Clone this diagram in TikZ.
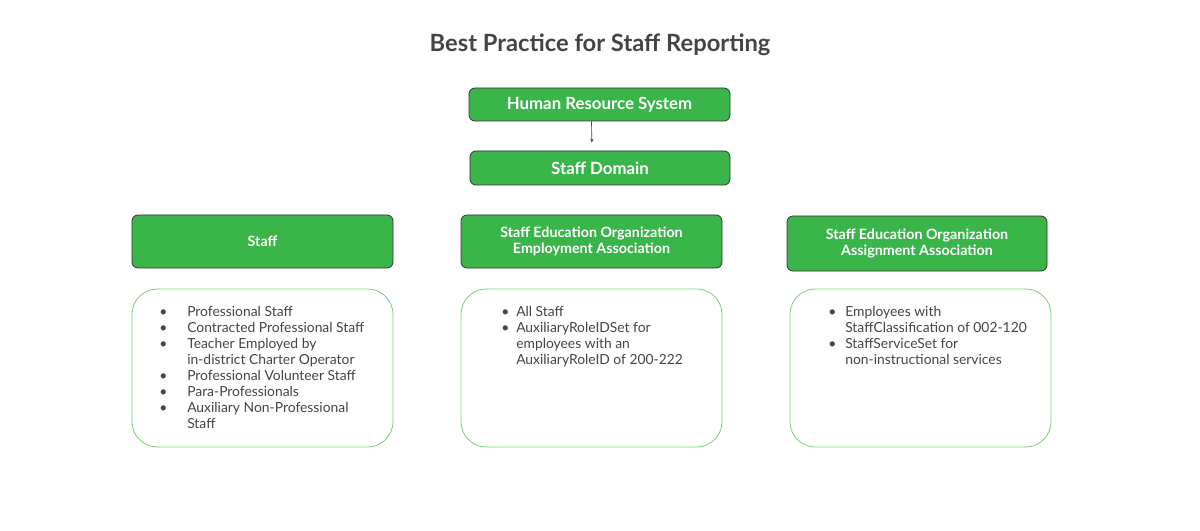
\documentclass[tikz,border=0pt]{standalone}
\usepackage{fontspec}
\setmainfont{Lato}
\usetikzlibrary{arrows.meta,positioning}
\definecolor{boxgreen}{RGB}{58,181,74}
\definecolor{rimgreen}{RGB}{122,206,122}
\definecolor{inkgrey}{RGB}{68,68,68}
\tikzset{
  headbox/.style={draw=black!80, fill=boxgreen, rounded corners=4.5pt, line width=0.6pt,
    text=white, align=center, inner sep=0pt, minimum width=195.75pt,
    font=\fontsize{10.7}{12}\selectfont\bfseries},
  listbox/.style={draw=rimgreen, rounded corners=19pt, line width=0.6pt,
    minimum width=195.75pt, minimum height=118.5pt, inner sep=0pt},
  listtext/.style={anchor=base west, inner sep=0pt, text=inkgrey,
    font=\fontsize{10.4}{12}\selectfont}
}

\begin{document}
\begin{tikzpicture}[x=0.75pt,y=-0.75pt,>={Stealth[length=3pt,width=2.5pt]}]
  \useasboundingbox (0,0) rectangle (1200,531);
  % title
  \node[text=inkgrey, font=\fontsize{17.8}{20}\selectfont\bfseries] (title) at (600,45) {Best Practice for Staff Reporting};
  % source and domain
  \node[headbox, minimum height=24.75pt, font=\fontsize{12.6}{14}\selectfont\bfseries] (hrs) at (599.5,104.5) {Human Resource System};
  \node[headbox, minimum width=195pt, minimum height=25.5pt, font=\fontsize{12.6}{14}\selectfont\bfseries] (dom) at (600,168) {Staff Domain};
  \draw[->, inkgrey, line width=0.5pt, shorten >=6pt] ([xshift=-6pt]hrs.south) -- ([xshift=-6pt]dom.north);
  % entity headers
  \node[headbox, minimum height=39.75pt] (staff) at (262.5,241.5) {Staff};
  \node[headbox, minimum height=39.75pt] (empl) at (591.5,241.5) {Staff Education Organization\\Employment Association};
  \node[headbox, minimum width=195pt, minimum height=41.25pt] (asgn) at (917,243.5) {Staff Education Organization\\Assignment Association};
  % lists
  \node[listbox] (stafflist) at (262.5,368) {};
  \node[listbox] (empllist) at (591.5,368) {};
  \node[listbox] (asgnlist) at (920.5,368) {};
  \node[listtext] (stafftext) at (159,316) {\begin{tabular}[t]{@{}p{21pt}@{}l@{}}
    \textbullet & Professional Staff\\
    \textbullet & Contracted Professional Staff\\
    \textbullet & Teacher Employed by\\
                & in-district Charter Operator\\
    \textbullet & Professional Volunteer Staff\\
    \textbullet & Para-Professionals\\
    \textbullet & Auxiliary Non-Professional\\
                & Staff
  \end{tabular}};
  \node[listtext] (empltext) at (501,316) {\begin{tabular}[t]{@{}p{11.25pt}@{}l@{}}
    \textbullet & All Staff\\
    \textbullet & AuxiliaryRoleIDSet for\\
                & employees with an\\
                & AuxiliaryRoleID of 200-222
  \end{tabular}};
  \node[listtext] (asgntext) at (828,316) {\begin{tabular}[t]{@{}p{12.75pt}@{}l@{}}
    \textbullet & Employees with\\
                & StaffClassification of 002-120\\
    \textbullet & StaffServiceSet for\\
                & non-instructional services
  \end{tabular}};
\end{tikzpicture}
\end{document}
